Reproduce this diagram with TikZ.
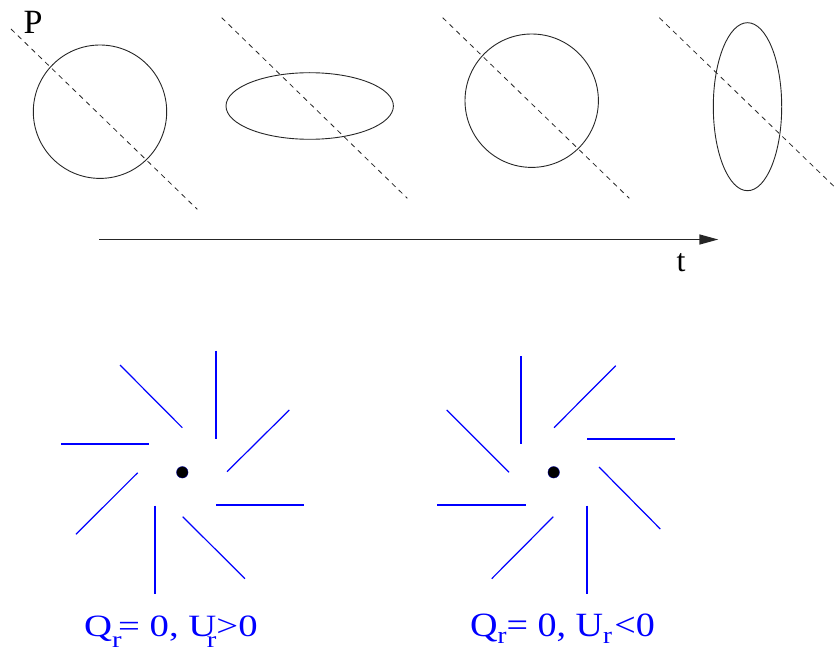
\documentclass[tikz,border=0pt]{standalone}
\usepackage{fontspec}
\usepackage{graphicx}
\setmainfont{Liberation Serif}
\usetikzlibrary{arrows.meta}
\newcommand\lowrA{\raisebox{-11pt}{\fontsize{23}{23}\selectfont r}}
\newcommand\lowrB{\raisebox{-7pt}{\fontsize{24}{24}\selectfont r}}
\begin{document}
\begin{tikzpicture}[x=1pt,y=-1pt,
  outline/.style={line width=0.9pt, draw=black!85},
  cut/.style={dash pattern=on 5pt off 4.5pt, line width=0.8pt, draw=black!85},
  vane/.style={draw=blue, line width=1.2pt},
  hub/.style={circle, fill=black, draw=blue!60!black, line width=0.4pt, inner sep=0pt, minimum size=11.5pt},
  lbl/.style={inner sep=0pt, font=\fontsize{34}{34}\selectfont},
  qlbl/.style={inner sep=0pt, text=blue, anchor=base west}
]
\useasboundingbox (0,0) rectangle (838,650);

% shapes over time
\draw[outline] (100,111.7) circle[radius=66.7];
\draw[outline] (309.7,106) ellipse[x radius=83.7, y radius=33.3];
\draw[outline] (531.7,100.7) circle[radius=66.7];
\draw[outline] (747.5,106.7) ellipse[x radius=34.2, y radius=84];

% dashed lines
\draw[cut] (11,29) -- (197.3,209.3);
\draw[cut] (221.7,17.7) -- (407.3,198.3);
\draw[cut] (442.7,17.7) -- (629.3,198.3);
\draw[cut] (659.3,17.7) -- (836,188.3);

\node[lbl] (P) at (33,22.5) {P};

% time axis
\coordinate (tstart) at (99.3,239.5);
\coordinate (tend) at (718.3,239.5);
\draw[line width=1.5pt, draw=black!85, -{Triangle[length=19pt,width=10pt]}] (tstart) -- (tend);
\node[inner sep=0pt, font=\fontsize{32}{32}\selectfont] (t) at (681,263) {t};

% pinwheel 1
\node[hub] (h1) at (182.3,472.3) {};
\draw[vane] (216,350.7) -- (216,439);
\draw[vane] (227,471.7) -- (289.3,410);
\draw[vane] (216,505) -- (304.3,505);
\draw[vane] (182.7,516.7) -- (245,578.7);
\draw[vane] (155,505.7) -- (155,594);
\draw[vane] (137.7,472.7) -- (76,534.3);
\draw[vane] (61,444) -- (149,444);
\draw[vane] (120,365) -- (182.3,427.7);

% pinwheel 2
\node[hub] (h2) at (553.7,472.3) {};
\draw[vane] (521,356) -- (521,444.3);
\draw[vane] (554,427.7) -- (615.7,365.7);
\draw[vane] (587.3,439) -- (675.3,439);
\draw[vane] (599,467) -- (660.3,529);
\draw[vane] (587,505.7) -- (587,594);
\draw[vane] (553.3,516.7) -- (491.7,578.7);
\draw[vane] (437.3,505) -- (526,505);
\draw[vane] (446.7,410) -- (509,472.3);

% labels
\node[qlbl, font=\fontsize{31}{31}\selectfont] (la) at (84,636)
  {\scalebox{1.25}[1]{Q\rlap{\lowrA}\kern-3pt\ = 0, U\llap{\lowrA}>0}};
\node[qlbl, font=\fontsize{34}{34}\selectfont] (lb) at (470,636)
  {\scalebox{1.12}[1]{Q\lowrB= 0, U\lowrB\kern2pt<0}};
\end{tikzpicture}
\end{document}
